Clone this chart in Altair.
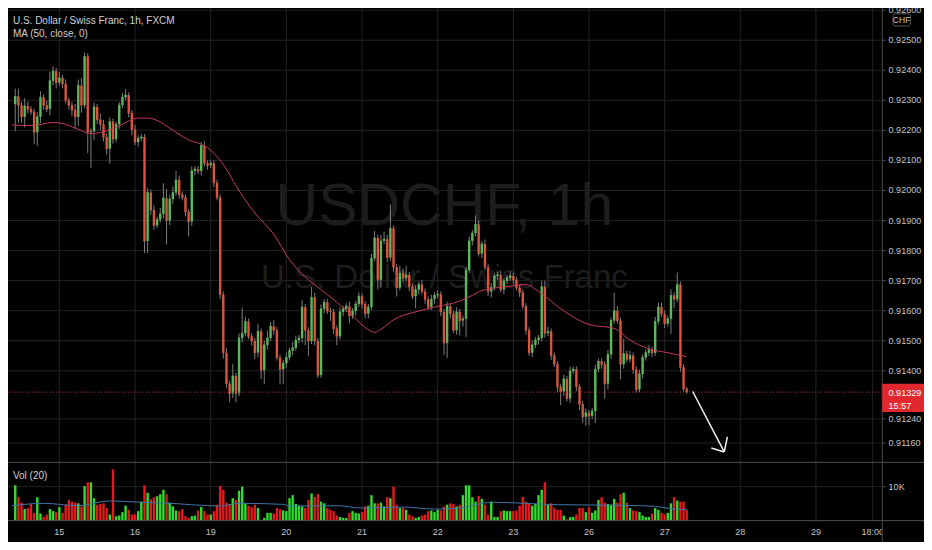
import altair as alt
import pandas as pd

# ---------------- data ----------------
FIRST_INDEX = -14          # candle index 0 = day 15, 00:00 (1h candles)
FIRST_OPEN = 0.92287

close = [
    0.92313, 0.92284, 0.92245, 0.92281, 0.92271, 0.92262, 0.92194, 0.92245, 0.92310, 0.92284,
    0.92271, 0.92365, 0.92397, 0.92359, 0.92375, 0.92355, 0.92300, 0.92284, 0.92268, 0.92245,
    0.92349, 0.92284, 0.92446, 0.92194, 0.92197, 0.92278, 0.92236, 0.92220, 0.92178, 0.92139,
    0.92229, 0.92171, 0.92220, 0.92284, 0.92310, 0.92317, 0.92258, 0.92203, 0.92161, 0.92174,
    0.92178, 0.91832, 0.91993, 0.91935, 0.91884, 0.91903, 0.91922, 0.91974, 0.91900, 0.91971,
    0.91993, 0.92035, 0.91987, 0.91977, 0.91929, 0.91897, 0.92065, 0.92071, 0.92065, 0.92149,
    0.92090, 0.92084, 0.92090, 0.92026, 0.91977, 0.91654, 0.91460, 0.91357, 0.91325, 0.91383,
    0.91325, 0.91509, 0.91525, 0.91564, 0.91515, 0.91499, 0.91460, 0.91531, 0.91402, 0.91486,
    0.91509, 0.91548, 0.91535, 0.91444, 0.91405, 0.91425, 0.91444, 0.91467, 0.91476, 0.91502,
    0.91509, 0.91612, 0.91535, 0.91499, 0.91644, 0.91499, 0.91386, 0.91606, 0.91628, 0.91599,
    0.91596, 0.91541, 0.91515, 0.91596, 0.91606, 0.91615, 0.91583, 0.91599, 0.91622, 0.91648,
    0.91622, 0.91590, 0.91612, 0.91774, 0.91842, 0.91703, 0.91832, 0.91838, 0.91777, 0.91874,
    0.91745, 0.91677, 0.91725, 0.91709, 0.91719, 0.91680, 0.91648, 0.91670, 0.91687, 0.91664,
    0.91638, 0.91612, 0.91638, 0.91651, 0.91654, 0.91596, 0.91493, 0.91615, 0.91590, 0.91535,
    0.91596, 0.91567, 0.91573, 0.91735, 0.91832, 0.91858, 0.91887, 0.91790, 0.91822, 0.91745,
    0.91664, 0.91677, 0.91716, 0.91719, 0.91670, 0.91699, 0.91709, 0.91716, 0.91703, 0.91677,
    0.91661, 0.91615, 0.91535, 0.91460, 0.91486, 0.91502, 0.91509, 0.91680, 0.91525, 0.91531,
    0.91451, 0.91422, 0.91347, 0.91331, 0.91373, 0.91308, 0.91399, 0.91405, 0.91347, 0.91289,
    0.91247, 0.91260, 0.91250, 0.91266, 0.91405, 0.91431, 0.91422, 0.91357, 0.91454, 0.91567,
    0.91599, 0.91567, 0.91422, 0.91457, 0.91438, 0.91451, 0.91405, 0.91338, 0.91389, 0.91444,
    0.91460, 0.91470, 0.91460, 0.91564, 0.91612, 0.91590, 0.91557, 0.91573, 0.91651, 0.91638,
    0.91687, 0.91412, 0.91341, 0.91329,
]

# upper / lower wick lengths in pips (0.0001)
wick_up = [
    2.6, 2.6, 1.0, 2.6, 1.5, 1.0, 1.0, 1.5, 2.0, 1.0,
    1.5, 3.0, 1.6, 1.0, 2.0, 1.0, 1.5, 1.0, 1.0, 2.0,
    2.0, 2.5, 1.3, 1.0, 1.0, 1.5, 1.0, 2.0, 1.5, 1.0,
    1.5, 1.0, 1.0, 1.0, 1.5, 2.0, 1.0, 1.0, 1.5, 1.0,
    1.0, 1.0, 1.5, 1.0, 1.5, 1.0, 2.0, 5.0, 3.0, 1.5,
    2.0, 3.0, 1.5, 1.0, 1.0, 1.0, 1.5, 1.0, 1.0, 1.3,
    1.5, 1.0, 1.0, 1.0, 1.0, 1.0, 1.0, 1.5, 1.0, 4.0,
    1.0, 1.5, 8.5, 1.5, 1.0, 1.0, 1.0, 2.5, 1.0, 1.5,
    2.5, 1.5, 2.0, 1.0, 1.0, 1.0, 1.5, 1.0, 2.0, 1.5,
    1.0, 2.5, 1.0, 1.0, 3.5, 1.6, 1.0, 1.5, 1.0, 1.0,
    1.0, 1.0, 1.0, 1.5, 1.0, 1.0, 1.5, 1.0, 1.0, 1.3,
    1.0, 1.0, 1.0, 1.5, 2.3, 1.0, 2.0, 2.5, 1.5, 8.0,
    1.0, 1.0, 2.5, 1.5, 3.0, 1.0, 1.0, 1.5, 1.0, 1.5,
    1.0, 1.0, 1.5, 1.0, 1.5, 1.0, 1.0, 1.5, 1.0, 1.0,
    1.5, 1.0, 1.0, 1.0, 1.5, 1.0, 3.0, 1.5, 1.0, 1.5,
    1.0, 1.5, 1.0, 1.0, 1.5, 1.0, 1.0, 1.5, 1.0, 1.0,
    1.0, 1.0, 1.0, 1.0, 1.5, 1.0, 1.0, 2.0, 2.0, 1.5,
    1.0, 1.0, 1.0, 1.0, 1.5, 1.0, 1.5, 1.0, 1.0, 1.0,
    1.0, 1.5, 1.0, 1.0, 1.5, 1.0, 1.0, 1.0, 1.5, 1.0,
    6.0, 1.5, 1.0, 5.0, 1.0, 1.5, 1.0, 1.0, 1.5, 1.0,
    1.0, 1.5, 1.0, 1.5, 1.5, 1.5, 1.0, 1.0, 2.0, 1.0,
    4.0, 1.0, 1.0, 0.5,
]
wick_dn = [
    9.0, 6.0, 2.0, 3.5, 1.5, 1.0, 4.0, 4.5, 2.0, 1.5,
    1.0, 2.0, 1.5, 2.0, 1.0, 1.5, 1.0, 1.5, 2.0, 4.0,
    3.0, 2.5, 1.0, 7.0, 12.0, 3.0, 1.5, 2.0, 1.5, 2.0,
    5.0, 1.5, 1.0, 1.5, 1.0, 1.0, 1.5, 2.0, 1.0, 1.5,
    1.0, 4.0, 4.0, 1.5, 1.5, 1.0, 1.0, 1.5, 8.0, 1.5,
    1.5, 1.0, 1.5, 1.0, 1.5, 5.0, 1.5, 1.5, 1.0, 1.5,
    1.0, 1.5, 1.0, 1.5, 1.0, 1.5, 2.0, 1.5, 3.0, 1.5,
    3.0, 1.0, 1.5, 1.0, 1.0, 1.5, 2.0, 1.5, 3.0, 4.5,
    1.5, 1.0, 1.5, 1.0, 5.0, 5.0, 1.5, 1.0, 1.5, 1.0,
    1.0, 1.5, 5.0, 5.0, 1.0, 1.5, 1.0, 1.0, 1.5, 1.0,
    3.0, 2.0, 3.0, 1.0, 1.5, 1.0, 2.5, 1.0, 1.5, 1.0,
    1.5, 1.6, 1.5, 1.0, 1.0, 3.2, 2.5, 1.0, 1.5, 1.0,
    1.5, 3.0, 1.0, 1.5, 1.0, 1.5, 1.0, 4.0, 1.5, 1.0,
    1.5, 1.0, 1.0, 1.5, 1.0, 1.5, 4.0, 5.0, 1.5, 1.0,
    1.5, 5.0, 2.0, 6.0, 1.0, 1.5, 1.0, 1.0, 1.5, 1.0,
    1.5, 2.0, 1.0, 1.5, 1.0, 1.5, 1.0, 1.0, 1.5, 1.0,
    1.5, 1.0, 1.5, 1.0, 1.5, 1.0, 1.5, 1.0, 1.5, 1.0,
    1.5, 1.0, 2.0, 4.5, 1.5, 1.0, 1.5, 1.0, 1.5, 2.0,
    2.0, 3.0, 3.0, 1.0, 4.0, 1.0, 1.5, 5.0, 2.0, 1.5,
    1.0, 1.0, 5.0, 1.5, 1.0, 1.0, 1.5, 1.0, 1.0, 1.5,
    1.0, 1.0, 1.5, 1.0, 1.0, 1.0, 1.5, 1.0, 5.0, 3.0,
    1.0, 1.5, 1.0, 0.5,
]

# volume in thousands
volume_k = [
    10.4, 7.0, 5.3, 3.4, 3.7, 4.9, 2.3, 6.9, 2.1, 1.1,
    1.8, 3.4, 2.8, 2.5, 4.0, 2.3, 4.7, 6.1, 5.6, 5.3,
    5.1, 4.2, 10.2, 11.3, 11.3, 6.6, 4.7, 4.9, 5.1, 3.7,
    1.8, 15.1, 1.3, 1.5, 2.5, 4.4, 3.2, 1.8, 1.8, 2.8,
    5.6, 10.4, 8.2, 6.3, 6.9, 7.2, 7.8, 9.1, 7.8, 5.3,
    4.2, 3.0, 2.8, 3.4, 1.3, 0.8, 1.3, 1.5, 3.0, 4.0,
    2.8, 1.8, 1.8, 2.8, 4.7, 10.2, 9.1, 5.3, 4.9, 6.6,
    6.1, 8.8, 10.0, 5.1, 4.4, 4.0, 4.7, 3.7, 0.3, 0.8,
    2.3, 2.3, 2.1, 3.7, 3.4, 3.0, 2.8, 6.6, 7.5, 4.9,
    4.4, 4.2, 3.7, 6.1, 8.0, 7.0, 7.8, 5.6, 5.1, 3.7, 3.2,
    2.8, 1.5, 1.1, 0.8, 0.8, 2.3, 2.8, 2.3, 2.1, 2.5,
    4.2, 4.4, 7.5, 5.1, 5.1, 5.3, 4.2, 6.9, 6.6, 10.0,
    4.7, 3.7, 3.7, 3.2, 1.8, 1.3, 0.8, 1.1, 1.5, 1.8, 2.8,
    3.0, 2.5, 3.2, 3.0, 4.2, 4.7, 5.1, 4.9, 4.2, 4.7,
    7.5, 10.4, 10.4, 6.9, 5.6, 7.3, 6.4, 4.7, 1.8, 5.6,
    1.1, 1.1, 2.8, 3.0, 2.8, 2.8, 2.8, 3.0, 4.4, 7.0,
    5.6, 4.9, 4.4, 4.9, 7.5, 9.1, 11.3, 4.7, 5.1, 3.7,
    3.2, 3.2, 1.5, 0.4, 1.0, 1.1, 1.8, 3.7, 3.7, 2.5,
    4.0, 2.3, 3.0, 6.1, 6.9, 5.3, 4.9, 4.7, 6.4, 5.3,
    7.8, 8.2, 5.3, 3.7, 3.0, 2.8, 2.5, 1.5, 1.1, 1.1,
    2.1, 3.7, 3.2, 2.3, 1.8, 2.3, 5.1, 7.0, 5.9, 5.6,
    5.6, 3.2,
]

# MA(50, close) as drawn
ma_idx = [-15, -9, -2, 1, 4, 7, 10, 13, 16, 19, 22, 25, 28, 32, 35, 38, 41, 44, 47, 50,
          53, 56, 59, 62, 68, 73, 78, 83, 88, 93, 97, 100, 102, 106, 113, 119, 127, 131, 134,
          142, 148, 152, 160, 168, 176, 181, 187, 193, 199]
ma_val = [0.92218, 0.92216, 0.92226, 0.92223, 0.92212, 0.92199, 0.92189, 0.92193, 0.92202,
          0.92215, 0.92231, 0.92241, 0.92241, 0.92228, 0.92207, 0.92187, 0.92168, 0.92158,
          0.92142, 0.92113, 0.92071, 0.92016, 0.91968, 0.91925, 0.91854, 0.91770, 0.91712,
          0.91670, 0.91628, 0.91583, 0.91544, 0.91528, 0.91538, 0.91570, 0.91596, 0.91612,
          0.91632, 0.91651, 0.91667, 0.91680, 0.91687, 0.91664, 0.91599, 0.91554, 0.91541,
          0.91502, 0.91473, 0.91460, 0.91447]

# Vol(20) moving average (thousands)
vma_idx = [-15, -5, 6, 16, 26, 37, 47, 51, 57, 71, 73, 88, 96, 109, 119, 127, 137, 158, 179, 189, 194, 199]
vma_val = [4.4, 5.1, 4.4, 5.8, 5.4, 5.0, 4.4, 4.3, 5.1, 4.8, 4.3, 4.4, 3.7, 4.0, 3.4, 3.7, 5.4, 4.7, 4.5, 4.2, 3.5, 3.2]

price_ticks = [0.926, 0.925, 0.924, 0.923, 0.922, 0.921, 0.920, 0.919, 0.918, 0.917,
               0.916, 0.915, 0.914, 0.9124, 0.9116]
price_labels = ["0.92600", "0.92500", "0.92400", "0.92300", "0.92200", "0.92100", "0.92000",
                "0.91900", "0.91800", "0.91700", "0.91600", "0.91500", "0.91400", "0.91240", "0.91160"]
time_idx = [0, 24, 48, 72, 96, 120, 144, 168, 192, 216, 240, 258]
time_labels = ["15", "16", "19", "20", "21", "22", "23", "26", "27", "28", "29", "18:00"]
vol_ticks = [10]
vol_labels = ["10K"]

last_price_label = "0.91329"
countdown_label = "15:57"
title_lines = ["U.S. Dollar / Swiss Franc, 1h, FXCM", "MA (50, close, 0)"]
vol_title = "Vol (20)"
watermark_big = "USDCHF, 1h"
watermark_small = "U.S. Dollar / Swiss Franc"
currency_label = "CHF"

# hand-drawn arrow (candle index, price)
arrow_i = [200.9, 210.9, 206.8, 211.9]
arrow_p = [0.91331, 0.91130, 0.91143, 0.91180]

# ---------------- layout ----------------
W, H = 916, 534
SX, SY = W / 932.0, H / 550.0
def px(v): return v * SX
def py(v): return v * SY

X0, STEP = 47.7, 3.243
P_REF, Y_REF, PX_PER = 0.925, 33.2, 30950.0
VOL_BASE, VOL_PX = 528.0, 3.5
x_dom = [(0 - X0) / STEP, (932 - X0) / STEP]
p_dom = [P_REF - (550 - Y_REF) / PX_PER, P_REF + Y_REF / PX_PER]
v_dom = [(VOL_BASE - 550) / VOL_PX, VOL_BASE / VOL_PX]

XS = alt.Scale(domain=x_dom, nice=False, zero=False)
PS = alt.Scale(domain=p_dom, nice=False, zero=False)
VS = alt.Scale(domain=v_dom, nice=False, zero=False)
def X(f): return alt.X(f, scale=XS, axis=None)
def P(f): return alt.Y(f, scale=PS, axis=None)
def V(f): return alt.Y(f, scale=VS, axis=None)

UP, DN, WICK = "#5cb85c", "#d9553f", "#7d7d7d"
VUP, VDN = "#2fdc2f", "#e3191c"
GRID, SEP, LBL, TXT = "#232323", "#4e4e4e", "#c4c4c4", "#d0d0d0"
MA_COL, VMA_COL = "#c7375a", "#3f74a8"
FONT = "Liberation Sans"
WFONT = "Liberation Sans"

# ---------------- frames ----------------
n = min(len(close), len(wick_up), len(wick_dn), len(volume_k))
rows, prev = [], FIRST_OPEN
for k in range(n):
    o, c = prev, close[k]
    rows.append(dict(i=FIRST_INDEX + k, open=o, close=c,
                     high=max(o, c) + wick_up[k] * 1e-4,
                     low=min(o, c) - wick_dn[k] * 1e-4,
                     vol=volume_k[k], v0=0.0))
    prev = c
df = pd.DataFrame(rows)
ma_df = pd.DataFrame({"i": ma_idx, "p": ma_val})
vma_df = pd.DataFrame({"i": vma_idx, "v": vma_val})
pt_df = pd.DataFrame({"p": price_ticks, "label": price_labels})
tt_df = pd.DataFrame({"i": time_idx, "label": time_labels})
vt_df = pd.DataFrame({"v": vol_ticks, "label": vol_labels})
arrow_df = pd.DataFrame({
    "x1": [arrow_i[0], arrow_i[1], arrow_i[1]], "x2": [arrow_i[1], arrow_i[2], arrow_i[3]],
    "y1": [arrow_p[0], arrow_p[1], arrow_p[1]], "y2": [arrow_p[1], arrow_p[2], arrow_p[3]],
})
last_df = pd.DataFrame({"p": [close[n - 1]], "label": [last_price_label], "cd": [countdown_label]})
one = pd.DataFrame({"a": [0]})

up_test = "datum.close >= datum.open"
layers = []

# grid
layers.append(alt.Chart(pt_df).mark_rule(color=GRID, strokeWidth=1).encode(
    y=P("p:Q"), x=alt.value(0), x2=alt.value(px(889))))
layers.append(alt.Chart(tt_df).mark_rule(color=GRID, strokeWidth=1).encode(
    x=X("i:Q"), y=alt.value(0), y2=alt.value(py(528))))
layers.append(alt.Chart(vt_df).mark_rule(color=GRID, strokeWidth=1).encode(
    y=V("v:Q"), x=alt.value(0), x2=alt.value(px(889))))

# watermark
layers.append(alt.Chart(pd.DataFrame({"t": [watermark_big]})).mark_text(
    font=WFONT, fontSize=59, color="#1d1d1d", align="center", baseline="alphabetic").encode(
    text="t:N", x=alt.value(px(444)), y=alt.value(py(223))))
layers.append(alt.Chart(pd.DataFrame({"t": [watermark_small]})).mark_text(
    font=WFONT, fontSize=33, color="#1d1d1d", align="center", baseline="alphabetic").encode(
    text="t:N", x=alt.value(px(444)), y=alt.value(py(288))))

# candles
layers.append(alt.Chart(df).mark_rule(color=WICK, strokeWidth=1).encode(
    x=X("i:Q"), y=P("low:Q"), y2="high:Q"))
layers.append(alt.Chart(df).mark_bar(size=2.4).encode(
    x=X("i:Q"), y=P("open:Q"), y2="close:Q",
    color=alt.condition(up_test, alt.value(UP), alt.value(DN))))
layers.append(alt.Chart(df).mark_tick(orient="horizontal", size=2.4, thickness=1).encode(
    x=X("i:Q"), y=P("close:Q"),
    color=alt.condition(up_test, alt.value(UP), alt.value(DN))))

# MA
layers.append(alt.Chart(ma_df).mark_line(color=MA_COL, strokeWidth=1, interpolate="monotone").encode(
    x=X("i:Q"), y=P("p:Q")))

# volume
layers.append(alt.Chart(df).mark_bar(size=2.4).encode(
    x=X("i:Q"), y=V("vol:Q"), y2="v0:Q",
    color=alt.condition(up_test, alt.value(VUP), alt.value(VDN))))
layers.append(alt.Chart(vma_df).mark_line(color=VMA_COL, strokeWidth=1, interpolate="monotone").encode(
    x=X("i:Q"), y=V("v:Q")))

# current price line
layers.append(alt.Chart(last_df).mark_rule(color="#c0262d", strokeDash=[1, 2], strokeWidth=1).encode(
    y=P("p:Q"), x=alt.value(0), x2=alt.value(px(889))))

# arrow
layers.append(alt.Chart(arrow_df).mark_rule(color="#f2f2f2", strokeWidth=1.5).encode(
    x=X("x1:Q"), x2="x2:Q", y=P("y1:Q"), y2="y2:Q"))

# time labels
layers.append(alt.Chart(tt_df).mark_text(font=FONT, fontSize=9, color=LBL, align="center", baseline="middle").encode(
    x=X("i:Q"), y=alt.value(py(540)), text="label:N"))

# price axis panel
layers.append(alt.Chart(one).mark_rect(color="#000000").encode(
    x=alt.value(px(889)), x2=alt.value(W), y=alt.value(0), y2=alt.value(H)))

# separators
layers.append(alt.Chart(one).mark_rule(color=SEP, strokeWidth=1).encode(
    x=alt.value(0), x2=alt.value(W), y=alt.value(py(468))))
layers.append(alt.Chart(one).mark_rule(color=SEP, strokeWidth=1).encode(
    x=alt.value(0), x2=alt.value(W), y=alt.value(py(528))))
layers.append(alt.Chart(one).mark_rule(color=SEP, strokeWidth=1).encode(
    x=alt.value(px(889.5)), y=alt.value(0), y2=alt.value(H)))

# price axis ticks + labels
layers.append(alt.Chart(pt_df).mark_rule(color=SEP, strokeWidth=1).encode(
    y=P("p:Q"), x=alt.value(px(889.5)), x2=alt.value(px(893))))
layers.append(alt.Chart(pt_df).mark_text(font=FONT, fontSize=9, color=LBL, align="left", baseline="middle").encode(
    y=P("p:Q"), x=alt.value(px(896)), text="label:N"))
layers.append(alt.Chart(vt_df).mark_rule(color=SEP, strokeWidth=1).encode(
    y=V("v:Q"), x=alt.value(px(889.5)), x2=alt.value(px(893))))
layers.append(alt.Chart(vt_df).mark_text(font=FONT, fontSize=9, color=LBL, align="left", baseline="middle").encode(
    y=V("v:Q"), x=alt.value(px(896)), text="label:N"))

# last price box
layers.append(alt.Chart(one).mark_rect(color="#e0282e").encode(
    x=alt.value(px(889.5)), x2=alt.value(W), y=alt.value(py(387)), y2=alt.value(py(416))))
layers.append(alt.Chart(last_df).mark_text(font=FONT, fontSize=9, color="#ffffff", align="left", baseline="middle").encode(
    x=alt.value(px(896)), y=alt.value(py(397)), text="label:N"))
layers.append(alt.Chart(last_df).mark_text(font=FONT, fontSize=9, color="#ffffff", align="left", baseline="middle").encode(
    x=alt.value(px(896)), y=alt.value(py(409.5)), text="cd:N"))

# currency box
layers.append(alt.Chart(one).mark_rect(color="#000000", stroke="#5a5a5a", strokeWidth=1, cornerRadius=2).encode(
    x=alt.value(px(900.5)), x2=alt.value(px(918)), y=alt.value(py(6)), y2=alt.value(py(18.5))))
layers.append(alt.Chart(pd.DataFrame({"t": [currency_label]})).mark_text(
    font=FONT, fontSize=8.5, color=LBL, align="center", baseline="middle").encode(
    x=alt.value(px(909.2)), y=alt.value(py(12.5)), text="t:N"))

# legend texts
for t, yy in zip(title_lines + [vol_title], [13, 26.5, 482]):
    layers.append(alt.Chart(pd.DataFrame({"t": [t]})).mark_text(
        font=FONT, fontSize=10, color=TXT, align="left", baseline="middle").encode(
        x=alt.value(px(5)), y=alt.value(py(yy)), text="t:N"))

chart = alt.layer(*layers).resolve_scale(y="independent").properties(
    width=W, height=H, padding=0, background="#000000",
    autosize=alt.AutoSizeParams(type="none"),
).configure_view(strokeWidth=0)

chart.save("out.html", embed_options={"renderer": "svg", "actions": False})
